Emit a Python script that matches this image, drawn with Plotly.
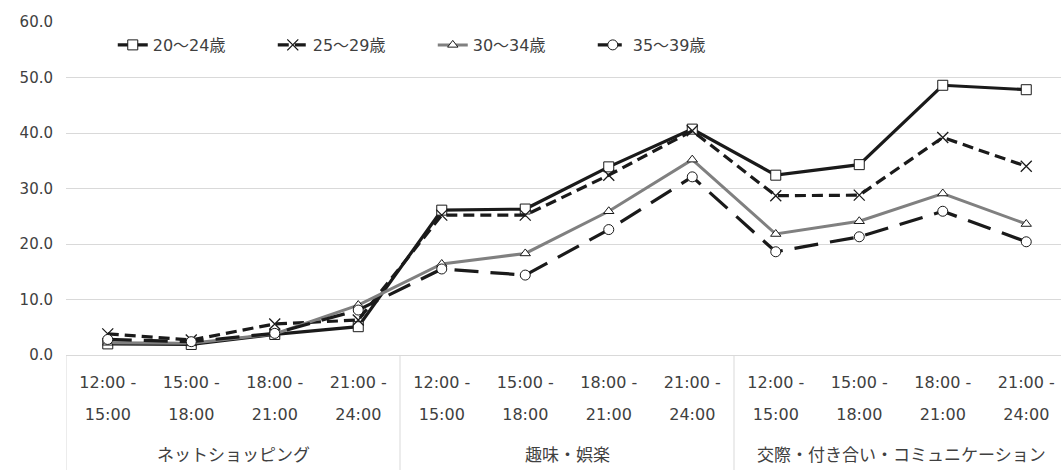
import plotly.graph_objects as go

# Activity groups and time slots
groups = ["ネットショッピング", "趣味・娯楽", "交際・付き合い・コミュニケーション"]
slot_start = ["12:00 -", "15:00 -", "18:00 -", "21:00 -"]
slot_end = ["15:00", "18:00", "21:00", "24:00"]

# Share (%) by age band, 4 time slots per group
age_20_24 = [2.0, 1.9, 3.7, 5.1, 26.1, 26.3, 33.9, 40.7, 32.4, 34.3, 48.6, 47.8]
age_25_29 = [3.8, 2.7, 5.6, 6.3, 25.2, 25.2, 32.4, 40.4, 28.7, 28.8, 39.2, 34.0]
age_30_34 = [2.2, 2.1, 3.8, 9.0, 16.4, 18.3, 25.9, 35.2, 21.8, 24.1, 29.1, 23.6]
age_35_39 = [2.8, 2.4, 3.9, 8.1, 15.5, 14.4, 22.6, 32.1, 18.6, 21.3, 25.9, 20.4]

series_names = ["20〜24歳", "25〜29歳", "30〜34歳", "35〜39歳"]

n_slots = len(slot_start)
n_cat = len(groups) * n_slots
xpos = list(range(n_cat))
tick_top = slot_start * len(groups)
tick_bottom = slot_end * len(groups)

FONT = "DejaVu Sans, Noto Sans CJK JP, sans-serif"
TXT = "#404040"
GRID = "#d9d9d9"

styles = [
    dict(line=dict(color="#1a1a1a", width=3.2),
         marker=dict(symbol="square", size=10, color="white",
                     line=dict(color="#1a1a1a", width=1))),
    dict(line=dict(color="#1a1a1a", width=3.2, dash="11px,6px"),
         marker=dict(symbol="x-thin-open", size=11, color="#1a1a1a",
                     line=dict(color="#1a1a1a", width=1.3))),
    dict(line=dict(color="#808080", width=3),
         marker=dict(symbol="triangle-up", size=9, color="white",
                     line=dict(color="#1a1a1a", width=1))),
    dict(line=dict(color="#1a1a1a", width=3.2, dash="24px,12px"),
         marker=dict(symbol="circle", size=10, color="white",
                     line=dict(color="#1a1a1a", width=1))),
]

fig = go.Figure()
for name, vals, st in zip(series_names,
                          [age_20_24, age_25_29, age_30_34, age_35_39], styles):
    fig.add_trace(go.Scatter(x=xpos, y=vals, name=name, mode="lines+markers",
                             line=st["line"], marker=st["marker"],
                             xaxis="x", yaxis="y"))

# invisible trace that carries the second tick row
fig.add_trace(go.Scatter(x=xpos, y=[None] * n_cat, xaxis="x2", yaxis="y",
                         showlegend=False, hoverinfo="skip"))

xrange = [-0.5, 11.416]
fig.update_layout(
    width=1061, height=470,
    margin=dict(l=66, r=0, t=22, b=115),
    paper_bgcolor="white", plot_bgcolor="white",
    font=dict(family=FONT, size=15, color=TXT),
    showlegend=True,
    legend=dict(orientation="h", x=0.047, xanchor="left", y=0.931,
                yanchor="middle", entrywidth=115, entrywidthmode="pixels",
                font=dict(family=FONT, size=16, color=TXT),
                bgcolor="rgba(0,0,0,0)"),
    xaxis=dict(range=xrange, tickmode="array", tickvals=xpos, ticktext=tick_top,
               showgrid=False, zeroline=False, showline=True,
               linecolor=GRID, linewidth=1, ticks="",
               ticklabelstandoff=13, tickfont=dict(size=16, color=TXT)),
    xaxis2=dict(range=xrange, overlaying="x", anchor="y", side="bottom",
                tickmode="array", tickvals=xpos, ticktext=tick_bottom,
                showgrid=False, zeroline=False, showline=False, ticks="",
                ticklabelstandoff=48, tickfont=dict(size=16, color=TXT)),
    yaxis=dict(range=[0, 60], dtick=10, tickformat=".1f",
               showgrid=True, gridcolor=GRID, gridwidth=1,
               zeroline=False, showline=False, ticks="",
               ticklabelstandoff=12, tickfont=dict(size=15, color=TXT)),
)

# group labels and group dividers below the axis
for i, g in enumerate(groups):
    center = i * n_slots + (n_slots - 1) / 2
    fig.add_annotation(x=center, y=-0.30, xref="x", yref="paper", text=g,
                       showarrow=False, yanchor="middle",
                       font=dict(family=FONT, size=17, color=TXT))
for b in range(len(groups)):
    edge = b * n_slots - 0.5
    fig.add_shape(type="line", xref="x", yref="paper", x0=edge, x1=edge,
                  y0=0, y1=-0.35, line=dict(color=GRID, width=1))

fig.write_html("out.html")
